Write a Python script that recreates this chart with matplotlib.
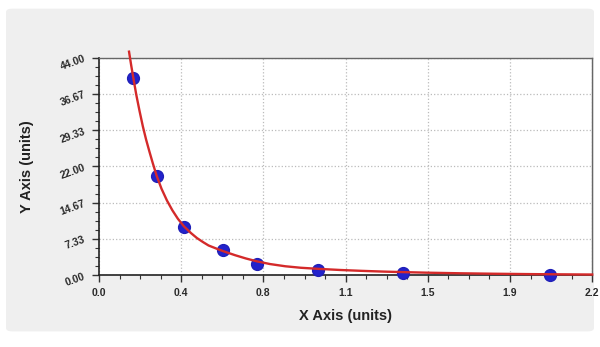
import numpy as np
import matplotlib.pyplot as plt
from matplotlib.patches import FancyBboxPatch
from matplotlib.ticker import AutoMinorLocator

plt.rcParams['font.family'] = ['Liberation Sans', 'DejaVu Sans']

# measured standards
x_pts = [0.157, 0.263, 0.388, 0.567, 0.720, 1.00, 1.387, 2.058]
y_pts = [39.9, 20.0, 9.8, 5.0, 2.3, 1.1, 0.5, 0.05]

# fitted curve
x_fit = [0.137, 0.147, 0.157, 0.170, 0.185, 0.200, 0.215, 0.230, 0.245, 0.263,
         0.285, 0.310, 0.335, 0.360, 0.388, 0.420, 0.447, 0.476, 0.500, 0.540,
         0.567, 0.620, 0.670, 0.720, 0.780, 0.850, 0.920, 1.000, 1.100, 1.200,
         1.300, 1.387, 1.500, 1.650, 1.800, 1.950, 2.100, 2.250]
y_fit = [45.2, 42.4, 39.8, 36.5, 33.2, 30.1, 27.4, 25.0, 22.7, 20.1,
         17.5, 15.1, 13.1, 11.4, 9.85, 8.5, 7.5, 6.65, 6.0, 5.3,
         4.85, 4.05, 3.38, 2.8, 2.25, 1.8, 1.5, 1.28, 1.05, 0.87,
         0.72, 0.62, 0.5, 0.38, 0.29, 0.22, 0.17, 0.13]

xticks = [0.0, 0.375, 0.75, 1.125, 1.5, 1.875, 2.25]
xlabels = ['0.0', '0.4', '0.8', '1.1', '1.5', '1.9', '2.2']
yticks = [0.0, 7.33, 14.67, 22.0, 29.33, 36.67, 44.0]
ylabels = ['0.00', '7.33', '14.67', '22.00', '29.33', '36.67', '44.00']

fig = plt.figure(figsize=(6, 3.47), dpi=100, facecolor='white')
fig.patches.append(FancyBboxPatch((0.01, 0.045), 0.98, 0.93,
                                  boxstyle='round,pad=0,rounding_size=0.01',
                                  transform=fig.transFigure, facecolor='#efefef',
                                  edgecolor='none', zorder=-10))

ax = fig.add_axes([0.165, 0.207, 0.822, 0.627])
ax.set_facecolor('white')

ax.plot(x_fit, y_fit, color='#d42a2a', lw=1.7, zorder=4, clip_on=False)
ax.plot(x_pts, y_pts, 'o', color='#2222cc', ms=8.5, mec='#2020b8', zorder=3, clip_on=False)

ax.set_xlim(0, 2.25)
ax.set_ylim(0, 44)
ax.set_xticks(xticks)
ax.set_xticklabels(xlabels)
ax.set_yticks(yticks)
ax.set_yticklabels(ylabels, rotation=20)
ax.xaxis.set_minor_locator(AutoMinorLocator(4))
ax.yaxis.set_minor_locator(AutoMinorLocator(4))
ax.tick_params(which='major', direction='out', length=5, width=1, color='#333333',
               labelsize=7.5, labelcolor='#2a2a2a', pad=4)
ax.tick_params(which='minor', direction='out', length=3, width=0.8, color='#333333')
for lab in ax.get_xticklabels() + ax.get_yticklabels():
    lab.set_fontweight('bold')

ax.grid(True, which='major', ls=':', color='#bbbbbb', lw=0.9)

for s in ['left', 'bottom']:
    ax.spines[s].set_color('#222222')
    ax.spines[s].set_linewidth(1.2)
for s in ['top', 'right']:
    ax.spines[s].set_color('#666666')
    ax.spines[s].set_linewidth(1.0)

ax.set_xlabel('X Axis (units)', fontsize=10.5, fontweight='bold', color='#222222', labelpad=8.5)
ax.set_ylabel('Y Axis (units)', fontsize=10.5, fontweight='bold', color='#222222', labelpad=18)

fig.savefig('out.png', dpi=100, facecolor=fig.get_facecolor())
